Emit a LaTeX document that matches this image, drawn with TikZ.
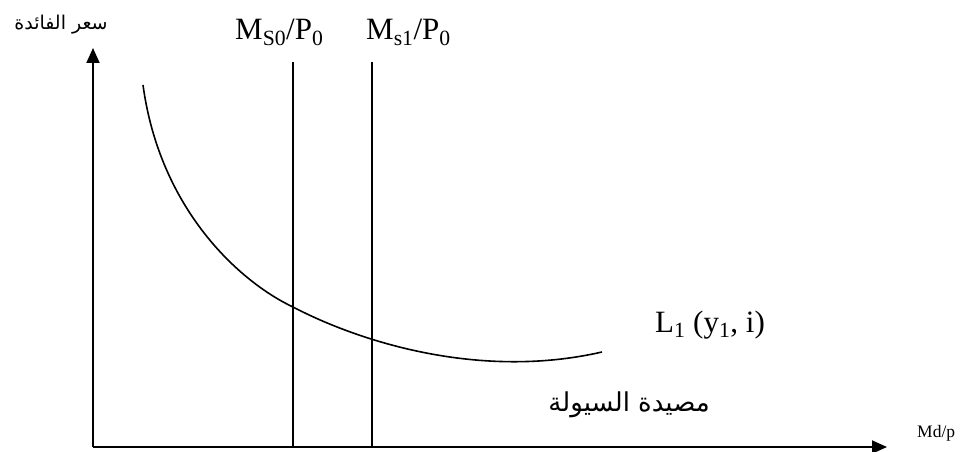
\documentclass[tikz,border=0pt]{standalone}
\usepackage{fontspec}
\setmainfont{Liberation Serif}
\newfontfamily\arabicfont[Script=Arabic]{DejaVu Sans}
\TeXXeTstate=1
\usetikzlibrary{arrows.meta}

\begin{document}
\begin{tikzpicture}[x=1pt,y=-1pt,
    axis/.style={line width=1.9pt,-{Triangle[length=15pt,width=13pt]}},
    supply/.style={line width=1.7pt},
    demand/.style={line width=1.6pt},
    lbl/.style={font=\fontsize{31}{34}\selectfont,inner sep=0pt},
    small/.style={font=\fontsize{17.5}{20}\selectfont,inner sep=0pt},
    arlbl/.style={font=\fontsize{19}{22}\selectfont\arabicfont,inner sep=0pt},
    arbig/.style={font=\fontsize{26}{29}\selectfont\arabicfont,inner sep=0pt}]
    \useasboundingbox (0,0) rectangle (962,452);
    % axes
    \coordinate (O) at (93,447);
    \coordinate (Ytop) at (93,48);
    \coordinate (Xend) at (887,447);
    \draw[axis] (O) -- (Ytop);
    \draw[axis] (O) -- (Xend);
    % money supply lines
    \coordinate (S0top) at (293,62);
    \coordinate (S0bot) at (293,447);
    \coordinate (S1top) at (372,62);
    \coordinate (S1bot) at (372,447);
    \draw[supply] (S0top) -- (S0bot);
    \draw[supply] (S1top) -- (S1bot);
    % liquidity preference
    \coordinate (Lstart) at (143,85);
    \coordinate (Lmid) at (293,307);
    \coordinate (Lend) at (602,352);
    \draw[demand] (Lstart) .. controls (160,210) and (240,282) .. (Lmid)
      .. controls (360,342) and (480,380) .. (Lend);
    % labels
    \node[arlbl] (rate) at (61,25) {\beginR سعر الفائدة\endR};
    \node[lbl,anchor=base west] (MS0) at (235,40) {M\textsubscript{S0}/P\textsubscript{0}};
    \node[lbl,anchor=base west] (MS1) at (366,40) {M\textsubscript{s1}/P\textsubscript{0}};
    \node[lbl,anchor=base west] (L1) at (655,332) {L\textsubscript{1} (y\textsubscript{1}, i)};
    \node[arbig,anchor=east] (trap) at (710,405) {\beginR مصيدة السيولة\endR};
    \node[small,anchor=base west] (md) at (917,437) {Md/p};
\end{tikzpicture}
\end{document}
